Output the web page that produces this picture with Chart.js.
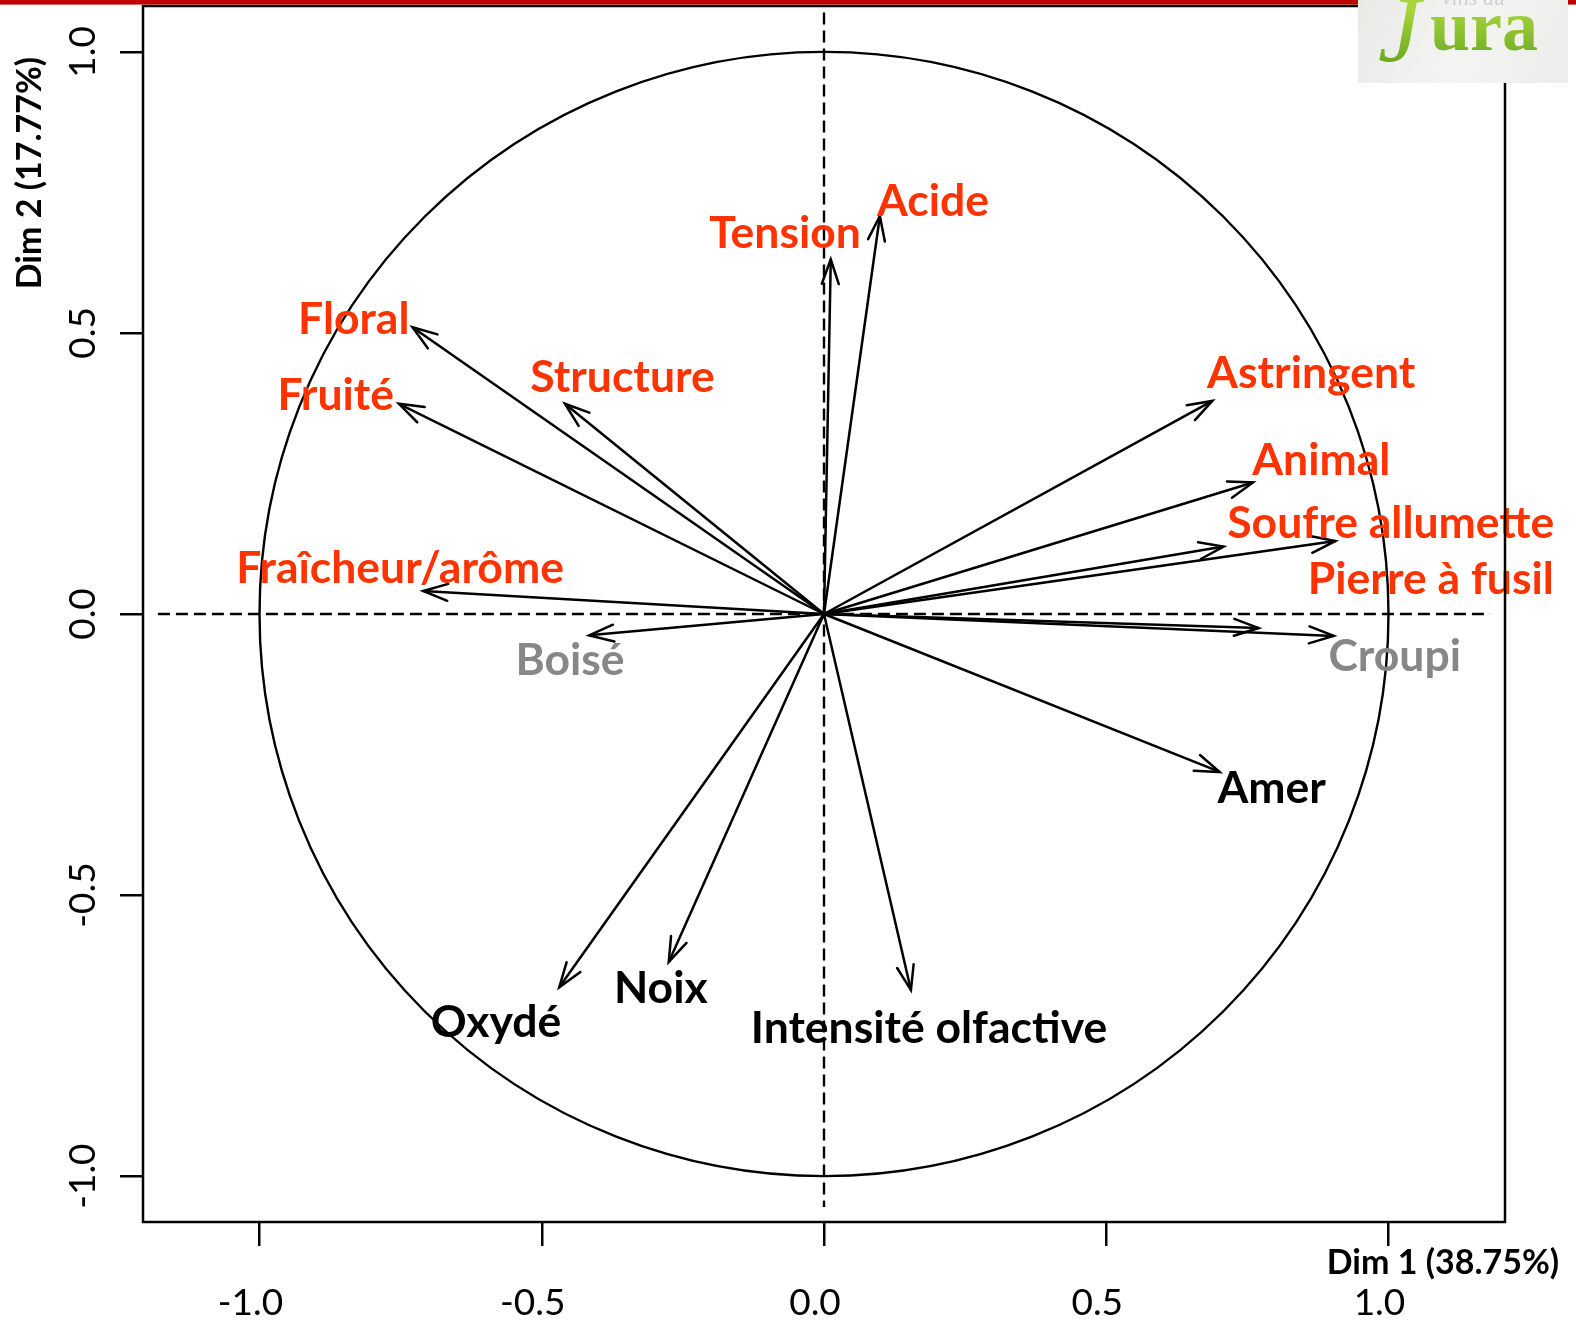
<!DOCTYPE html>
<html><head><meta charset="utf-8">
<script src="https://cdn.jsdelivr.net/npm/chart.js@4.4.1/dist/chart.umd.min.js"></script>
<style>html,body{margin:0;padding:0;background:#fff;}canvas{display:block;}</style>
</head><body>
<canvas id="c" width="1576" height="1321"></canvas>
<script>
// ---- data ----
const varNames = ['Acide','Tension','Floral','Fruité','Structure','Fraîcheur/arôme','Boisé','Astringent','Animal','Soufre allumette','Pierre à fusil','','Croupi','Amer','Intensité olfactive','Noix','Oxydé'];
const dim1 = [0.099, 0.012, -0.729, -0.753, -0.459, -0.710, -0.416, 0.688, 0.760, 0.708, 0.906, 0.770, 0.903, 0.701, 0.154, -0.275, -0.469];
const dim2 = [0.708, 0.631, 0.510, 0.374, 0.374, 0.041, -0.038, 0.379, 0.234, 0.120, 0.130, -0.025, -0.039, -0.281, -0.669, -0.619, -0.664];
const varGroup = ['hi','hi','hi','hi','hi','hi','mid','hi','hi','hi','hi','lo','mid','lo','lo','lo','lo'];
const labelDim1 = [0.193, -0.069, -0.833, -0.865, -0.357, -0.751, -0.450, 0.863, 0.881, 1.004, 1.075, 0, 1.011, 0.793, 0.186, -0.289, -0.581];
const labelDim2 = [0.735, 0.678, 0.526, 0.390, 0.422, 0.082, -0.081, 0.429, 0.274, 0.163, 0.063, 0, -0.073, -0.309, -0.735, -0.664, -0.725];
const tickValues = [-1, -0.5, 0, 0.5, 1];
const tickLabels = ['-1.0', '-0.5', '0.0', '0.5', '1.0'];
const xTitle = 'Dim 1 (38.75%)';
const yTitle = 'Dim 2 (17.77%)';
const axisLimitX = 1.2064, axisLimitY = 1.0816;
const hLineExtent = [-1.18, 1.18];
const vLineExtent = [1.07, -1.055];

// ---- styles ----
const groupColor = {hi: '#ff3300', mid: '#878787', lo: '#000000'};
const LABEL_FONT = 'bold 44.5px Lato';

const datasets = dim1.map((v, i) => ({
  data: [{x: 0, y: 0}, {x: v, y: dim2[i]}],
  showLine: true, borderColor: '#000', borderWidth: 2.5, pointRadius: 0, fill: false
}));

const pcaPlugin = {
  id: 'pca',
  beforeDatasetsDraw(chart) {
    const {ctx, chartArea: a, scales: {x, y}} = chart;
    ctx.save();
    ctx.beginPath(); ctx.rect(a.left, a.top, a.right - a.left, a.bottom - a.top); ctx.clip();
    const cx = x.getPixelForValue(0), cy = y.getPixelForValue(0);
    const rx = x.getPixelForValue(1) - cx, ry = cy - y.getPixelForValue(1);
    ctx.strokeStyle = '#000'; ctx.lineWidth = 2.4;
    ctx.beginPath(); ctx.ellipse(cx, cy, rx, ry, 0, 0, Math.PI * 2); ctx.stroke();
    ctx.setLineDash([12, 6]);
    ctx.beginPath();
    ctx.moveTo(x.getPixelForValue(hLineExtent[0]), cy); ctx.lineTo(x.getPixelForValue(hLineExtent[1]), cy);
    ctx.moveTo(cx, y.getPixelForValue(vLineExtent[0])); ctx.lineTo(cx, y.getPixelForValue(vLineExtent[1]));
    ctx.stroke();
    ctx.restore();
  },
  afterDatasetsDraw(chart) {
    const {ctx, scales: {x, y}} = chart;
    const ox = x.getPixelForValue(0), oy = y.getPixelForValue(0);
    ctx.save();
    ctx.strokeStyle = '#000'; ctx.lineWidth = 2.5; ctx.lineCap = 'round';
    const L = 26, a = 19 * Math.PI / 180;
    dim1.forEach((v, i) => {
      const tx = x.getPixelForValue(v), ty = y.getPixelForValue(dim2[i]);
      const ang = Math.atan2(ty - oy, tx - ox);
      ctx.beginPath();
      ctx.moveTo(tx - L * Math.cos(ang - a), ty - L * Math.sin(ang - a));
      ctx.lineTo(tx, ty);
      ctx.lineTo(tx - L * Math.cos(ang + a), ty - L * Math.sin(ang + a));
      ctx.stroke();
    });
    ctx.font = LABEL_FONT; ctx.textAlign = 'center'; ctx.textBaseline = 'alphabetic';
    varNames.forEach((n, i) => {
      if (!n) return;
      ctx.fillStyle = groupColor[varGroup[i]];
      ctx.fillText(n, x.getPixelForValue(labelDim1[i]), y.getPixelForValue(labelDim2[i]) + 15.5);
    });
    ctx.restore();
  },
  afterDraw(chart) {
    const {ctx, chartArea: a, scales: {x, y}} = chart;
    ctx.save();
    // box
    ctx.strokeStyle = '#000'; ctx.lineWidth = 2.5;
    ctx.strokeRect(a.left, a.top, a.right - a.left, a.bottom - a.top);
    // tick labels
    ctx.fillStyle = '#000'; ctx.font = '37px Lato'; ctx.textAlign = 'center'; ctx.textBaseline = 'alphabetic';
    x.ticks.forEach((t) => {
      ctx.fillText(tickLabels[tickValues.indexOf(t.value)], x.getPixelForValue(t.value) - 9, 1315);
    });
    y.ticks.forEach((t) => {
      ctx.save();
      ctx.translate(95, y.getPixelForValue(t.value));
      ctx.rotate(-Math.PI / 2);
      ctx.fillText(tickLabels[tickValues.indexOf(t.value)], 0, 0);
      ctx.restore();
    });
    // titles
    ctx.font = 'bold 34px Lato';
    ctx.fillText(xTitle, 1443, 1274);
    ctx.save(); ctx.translate(41, 173); ctx.rotate(-Math.PI / 2); ctx.fillText(yTitle, 0, 0); ctx.restore();
    // red banner line
    ctx.fillStyle = '#c00000'; ctx.fillRect(0, 0, 1576, 4.6);
    // logo
    const g = ctx.createLinearGradient(1358, 0, 1568, 83);
    g.addColorStop(0, '#e9e9e6'); g.addColorStop(0.5, '#f4f4f2'); g.addColorStop(1, '#ececea');
    ctx.fillStyle = g; ctx.fillRect(1358, 0, 210, 83);
    const gg = ctx.createLinearGradient(0, 10, 0, 75);
    gg.addColorStop(0, '#a6d43c'); gg.addColorStop(1, '#5e9e1c');
    ctx.fillStyle = gg; ctx.textAlign = 'left';
    ctx.font = 'bold 72px "Liberation Serif"';
    ctx.fillText('ura', 1430, 50);
    ctx.font = 'italic 96px "Liberation Serif"';
    ctx.fillText('J', 1378, 62);
    ctx.fillStyle = '#d0d0cc'; ctx.font = 'italic 22px "Liberation Serif"';
    ctx.fillText('Vins du', 1440, 5);
    ctx.restore();
  }
};

new Chart(document.getElementById('c'), {
  type: 'scatter',
  data: {datasets},
  options: {
    responsive: false, animation: false, devicePixelRatio: 1,
    layout: {padding: {left: 0, right: 71, top: 6, bottom: 0}},
    plugins: {legend: {display: false}, tooltip: {enabled: false}},
    scales: {
      x: {
        type: 'linear', min: -axisLimitX, max: axisLimitX,
        afterBuildTicks(s) { s.ticks = tickValues.map(v => ({value: v})); },
        afterFit(s) { s.height = 99; },
        ticks: {display: false},
        grid: {drawOnChartArea: false, drawTicks: true, tickLength: 24, color: '#000', lineWidth: 2.5},
        border: {display: false}
      },
      y: {
        type: 'linear', min: -axisLimitY, max: axisLimitY,
        afterBuildTicks(s) { s.ticks = tickValues.map(v => ({value: v})); },
        afterFit(s) { s.width = 143; },
        ticks: {display: false},
        grid: {drawOnChartArea: false, drawTicks: true, tickLength: 23, color: '#000', lineWidth: 2.5},
        border: {display: false}
      }
    }
  },
  plugins: [pcaPlugin]
});
</script>
</body></html>
